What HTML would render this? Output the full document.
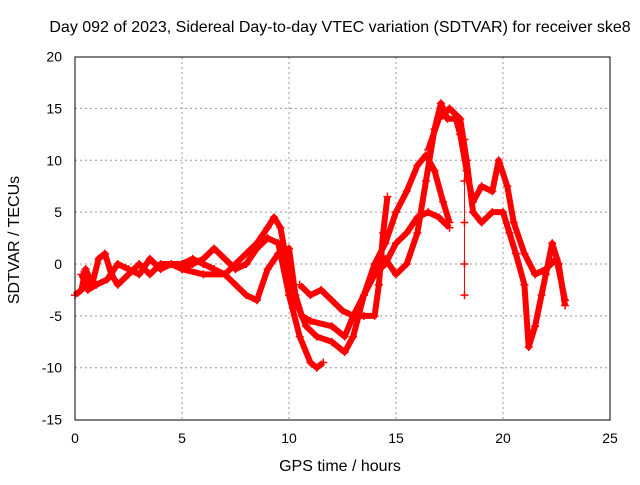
<!DOCTYPE html>
<html><head><meta charset="utf-8"><style>
html,body{margin:0;padding:0;background:#fff}
svg text{font-family:"Liberation Sans",sans-serif;font-size:14px;fill:#000}
</style></head><body>
<svg id="chart" width="640" height="480" xmlns="http://www.w3.org/2000/svg">
<text x="340" y="32" text-anchor="middle" style="font-size:16px">Day 092 of 2023, Sidereal Day-to-day VTEC variation (SDTVAR) for receiver ske8</text>
<text x="340" y="471" text-anchor="middle" style="font-size:16px">GPS time / hours</text>
<text transform="translate(19,240) rotate(-90)" text-anchor="middle" style="font-size:16px">SDTVAR / TECUs</text>
<g id="grid"></g><g id="ticks"></g><g id="series"></g>
<rect x="75" y="57" width="535" height="363" fill="none" stroke="#000" stroke-width="1"/>
</svg>
<script>
const xTicks=[0,5,10,15,20,25];
const yTicks=[-15,-10,-5,0,5,10,15,20];
const track1=[[0,-3],[0.3,-2.5],[0.5,-0.5],[0.8,-2],[1.1,0.5],[1.4,1],[1.7,-1],[2,-2],[2.5,-1],[3,0],[3.5,-1],[4,0],[4.5,0],[5,-0.5],[5.5,0],[6,0.5],[6.5,1.5],[7,0.5],[7.5,-0.5],[8,0],[8.5,1.5],[9,2.5],[9.5,2],[10,-3],[10.5,-7],[11,-9.5],[11.3,-10],[11.6,-9.5]];
const track2=[[0.3,-1],[0.6,-2.5],[1,-2],[1.5,-1.5],[2,0],[2.5,-0.5],[3,-1],[3.5,0.5],[4,-0.5],[4.5,0],[5,0],[5.5,0.5],[6,0],[6.5,-0.5],[7,-1],[7.5,0],[8,1],[8.5,2],[9,3.5],[9.3,4.5],[9.6,3.5],[10,-1],[10.4,-4],[10.8,-6],[11.3,-7],[12,-7.5],[12.6,-8.5],[13,-7],[13.5,-3],[14,0],[14.5,2],[15,5],[15.5,7],[16,9.5],[16.4,10.5],[16.8,9],[17.2,6],[17.5,4]];
const track3=[[5,-0.5],[6,-1],[7,-1],[7.5,-2],[8,-3],[8.5,-3.5],[9,-0.5],[9.5,1],[10,1.5],[10.3,-3],[10.6,-5],[11,-5.5],[12,-6],[12.6,-7],[13,-5],[13.5,-3],[14,-1],[14.5,0],[15,2],[15.5,3],[16,4.5],[16.5,5],[17,4.5],[17.5,3.5]];
const track4=[[10.5,-2],[11,-3],[11.5,-2.5],[12,-3.5],[12.5,-4.5],[13,-5],[13.5,-5],[14,-5],[14.2,-2],[14.4,3],[14.6,6.5]];
const track5=[[14,-1],[14.5,0.5],[15,-1],[15.5,0],[16,3],[16.4,8],[16.8,13],[17.1,15.5],[17.4,14],[17.8,14],[18,12.5],[18.3,9],[18.6,6],[19,7.5],[19.5,7],[19.8,10],[20.2,7.5],[20.5,4],[21,1],[21.5,-1],[22,-0.5],[22.5,0.5],[22.9,-3.5]];
const track6=[[16.5,11],[17,14],[17.5,15],[18,14],[18.3,10],[18.6,5],[19,4],[19.5,5],[20,5],[20.3,3],[20.6,1],[21,-2],[21.2,-8],[21.5,-6],[21.8,-3],[22,-1],[22.3,2],[22.6,0],[22.9,-4]];
const track7=[[18.2,12],[18.2,8],[18.2,4],[18.2,0],[18.2,-3]];
const tracks=[track1,track2,track3,track4,track5,track6,track7];
const NS="http://www.w3.org/2000/svg";
const X=h=>75+h*535/25, Y=v=>264-v*363/35;
const grid=document.getElementById('grid'),ticks=document.getElementById('ticks'),ser=document.getElementById('series');
function mk(t,a,p){const e=document.createElementNS(NS,t);for(const k in a)e.setAttribute(k,a[k]);p.appendChild(e);return e;}
xTicks.forEach(t=>{
 if(t>0&&t<25){const g=mk('line',{x1:X(t),x2:X(t),y1:57,y2:420,stroke:'#999','stroke-dasharray':'2,3'},grid);
 
 }
 const tl=mk('text',{x:X(t),y:443,'text-anchor':'middle'},ticks);tl.textContent=t;
 
 
});
yTicks.forEach(t=>{
 if(t>-15&&t<20){const g=mk('line',{x1:75,x2:610,y1:Y(t),y2:Y(t),stroke:'#999','stroke-dasharray':'2,3'},grid);
 
 }
 const tl=mk('text',{x:62,y:Y(t)+5,'text-anchor':'end'},ticks);tl.textContent=t;
 
 
});
tracks.forEach((tr,i)=>{
 const pl=mk('polyline',{points:tr.map(p=>X(p[0])+','+Y(p[1])).join(' '),fill:'none',stroke:'#f00','stroke-width':i==6?1:6,'stroke-linejoin':'round'},ser);
 
 
 tr.forEach(p=>{const x=X(p[0]),y=Y(p[1]);
  const m=mk('path',{d:`M${x-4},${y}h8M${x},${y-4}v8`,stroke:'#f00','stroke-width':1.5},ser);
  
  });
});
</script>
</body></html>
